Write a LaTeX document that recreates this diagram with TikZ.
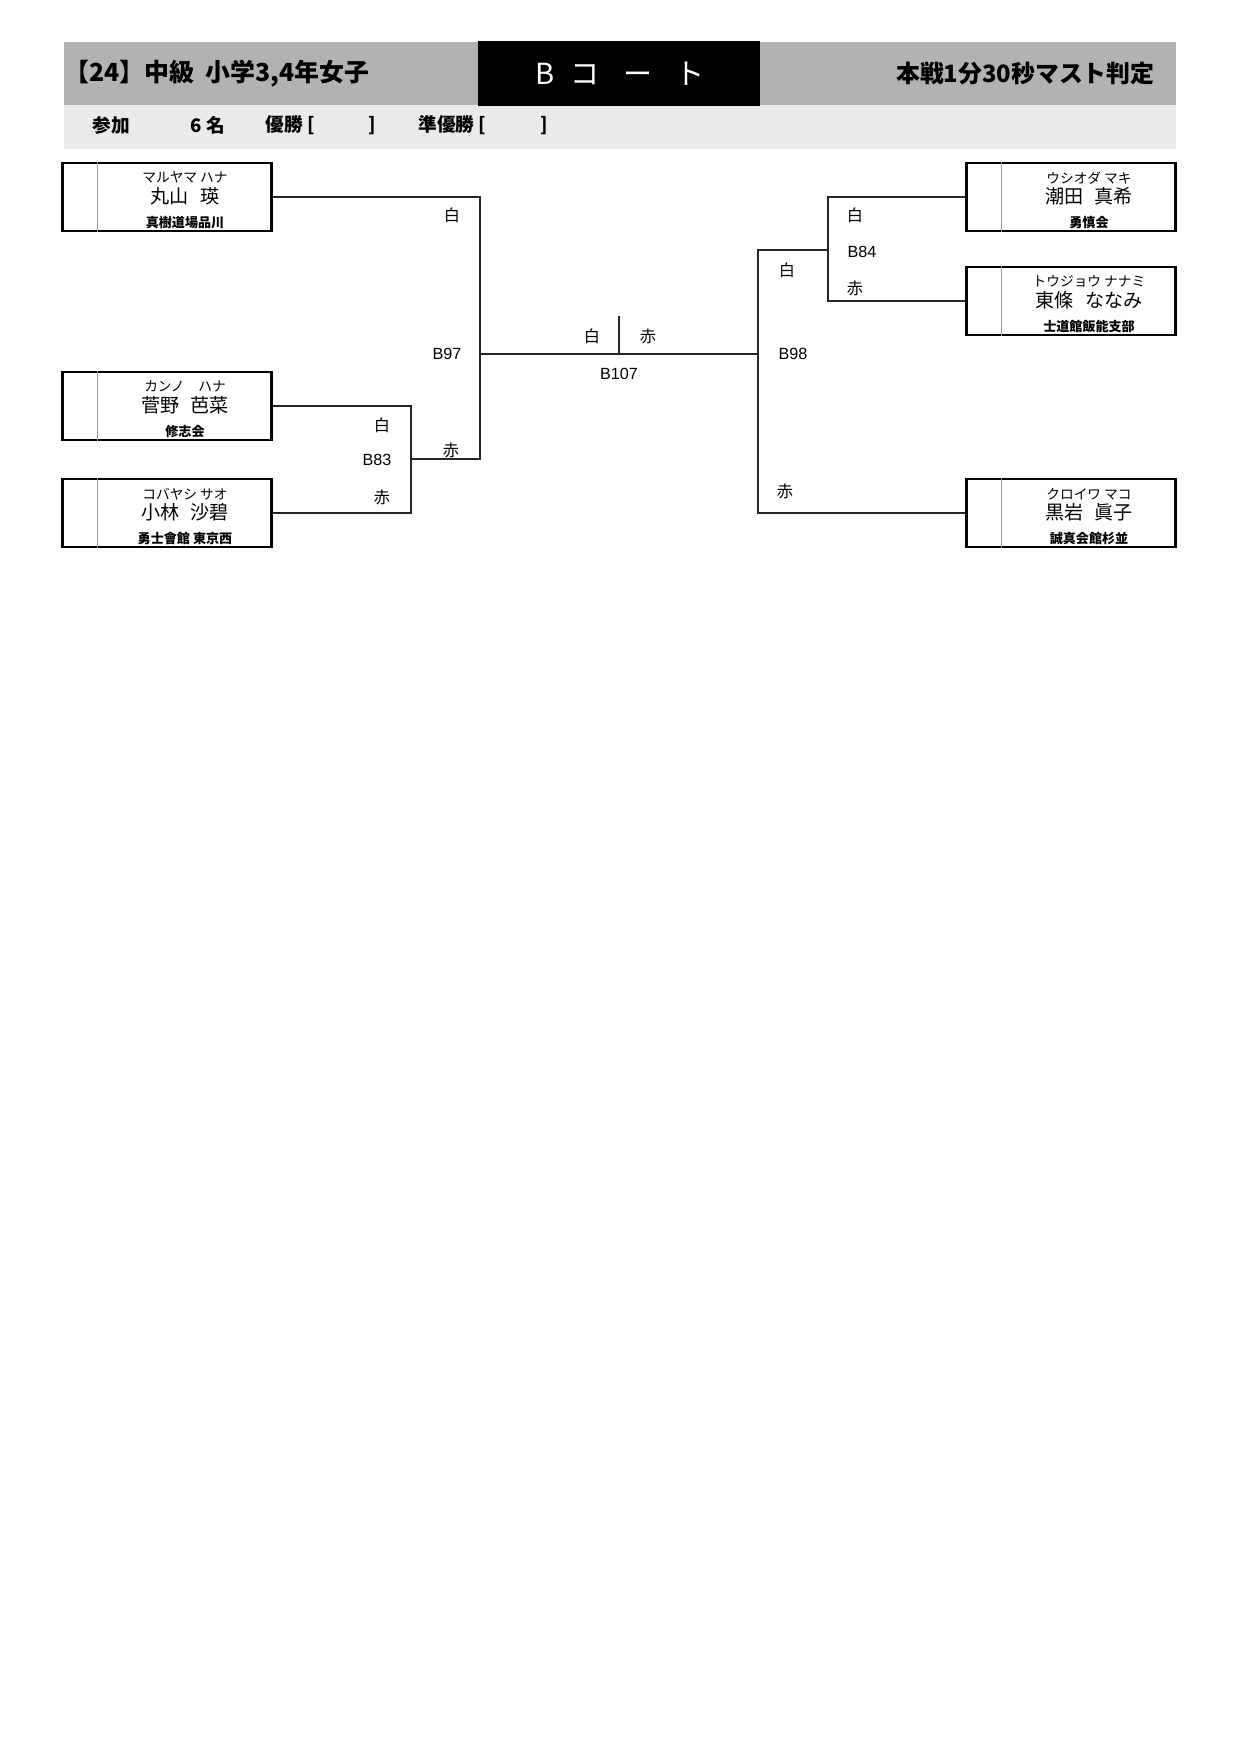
\documentclass[tikz,border=0pt]{standalone}
\usepackage{fontspec}
\setmainfont{Noto Sans CJK JP}
\newfontfamily\latinfont{Liberation Sans}
\usetikzlibrary{positioning,calc}
\definecolor{headgrey}{HTML}{B2B2B2}
\definecolor{bandgrey}{HTML}{EAEAEA}
\definecolor{divgrey}{HTML}{9A9A9A}
\newcommand{\nsp}{\hspace{0.6em}}
\tikzset{
  playerbox/.style={draw=black,line width=1.2pt,minimum width=35.4mm,minimum height=11.5mm,inner sep=0},
  divider/.style={draw=divgrey,line width=0.4pt},
  bracket/.style={draw=black!85,line width=0.6pt},
  kana/.style={font=\fontsize{6.6}{7}\selectfont,inner sep=0},
  pname/.style={font=\fontsize{9.2}{10}\selectfont,inner sep=0},
  dojo/.style={font=\bfseries\fontsize{6.3}{7}\selectfont,inner sep=0},
  side/.style={font=\fontsize{7.8}{9}\selectfont,inner sep=0},
  match/.style={font=\latinfont\fontsize{7.8}{9}\selectfont,inner sep=0},
  headtext/.style={font=\bfseries\fontsize{12}{13}\selectfont,inner sep=0},
  bandtext/.style={font=\bfseries\fontsize{9}{10}\selectfont,inner sep=0,anchor=west}}

\begin{document}
\begin{tikzpicture}[x=0.16935mm,y=-0.16935mm]
  \useasboundingbox (0,0) rectangle (1240,1754);
  % header bands
  \fill[headgrey] (64,42) rectangle (1176,105);
  \fill[bandgrey] (64,105) rectangle (1176,149);
  \fill[black] (478,41) rectangle (760,106);
  \node[headtext,anchor=west] (title) at (64,74) {【24】中級\ \ 小学3,4年女子};
  \node[headtext,anchor=east,font=\bfseries\fontsize{11.5}{13}\selectfont] (rule) at (1155,74) {本戦1分30秒マスト判定};
  \node[font=\fontsize{14}{15}\selectfont,text=white,inner sep=0] (court) at (620,74) {B\hspace{7.7pt}コ\hspace{11.5pt}ー\hspace{11.5pt}ト};
  \node[bandtext] (entry) at (92,125) {参加};
  \node[bandtext] (count) at (190,125) {6 名};
  \node[bandtext] (champ) at (265,125) {優勝 [\hspace{26pt}]};
  \node[bandtext] (runner) at (418,125) {準優勝 [\hspace{26pt}]};
  % players
  \foreach \n/\x/\y/\k/\m/\d in {
    maru/167/197/マルヤマ ハナ/丸山\nsp 瑛/真樹道場品川,
    kanno/167/406/カンノ　ハナ/菅野\nsp 芭菜/修志会,
    koba/167/513/コバヤシ サオ/小林\nsp 沙碧/勇士會館 東京西,
    ushio/1071/197/ウシオダ マキ/潮田\nsp 真希/勇慎会,
    tojo/1071/301/トウジョウ ナナミ/東條\nsp ななみ/士道館飯能支部,
    kuro/1071/513/クロイワ マコ/黒岩\nsp 眞子/誠真会館杉並}{
    \node[playerbox] (\n) at (\x,\y) {};
    \draw[divider] ($(\n.north west)+(36,0)$) -- ($(\n.south west)+(36,0)$);
    \node[kana] (\n-k) at ($(\n.north)+(18,16)$) {\k};
    \node[pname] (\n-m) at ($(\n.north)+(18,34)$) {\m};
    \node[dojo] (\n-d) at ($(\n.south)+(18,-10)$) {\d};}
  % match points
  \coordinate (b83) at (411,459);
  \coordinate (b97) at (480,354);
  \coordinate (b84) at (828,250);
  \coordinate (b98) at (758,354);
  \coordinate (b107) at (619,354);
  \coordinate (tick) at (619,316);
  % bracket lines
  \draw[bracket] (kanno.east) -| (b83) |- (koba.east);
  \draw[bracket] (maru.east) -| (b97 |- b83) -- (b83);
  \draw[bracket] (ushio.west) -| (b84) |- (tojo.west);
  \draw[bracket] (b84) -| (b98) |- (kuro.west);
  \draw[bracket] (b97) -- (b98);
  \draw[bracket] (b107) -- (tick);
  % labels
  \node[side] (w97) at (452,215) {白};
  \node[match] (m97) at (447,354) {B97};
  \node[side] (r97) at (451,450) {赤};
  \node[side] (w83) at (382,425) {白};
  \node[match] (m83) at (377,460) {B83};
  \node[side] (r83) at (382,497) {赤};
  \node[side] (w107) at (592,336) {白};
  \node[side] (r107) at (648,336) {赤};
  \node[match] (m107) at (619,374) {B107};
  \node[side] (w98) at (787,270) {白};
  \node[match] (m98) at (793,354) {B98};
  \node[side] (r98) at (785,491) {赤};
  \node[side] (w84) at (855,215) {白};
  \node[match] (m84) at (862,252) {B84};
  \node[side] (r84) at (855,288) {赤};
\end{tikzpicture}
\end{document}
